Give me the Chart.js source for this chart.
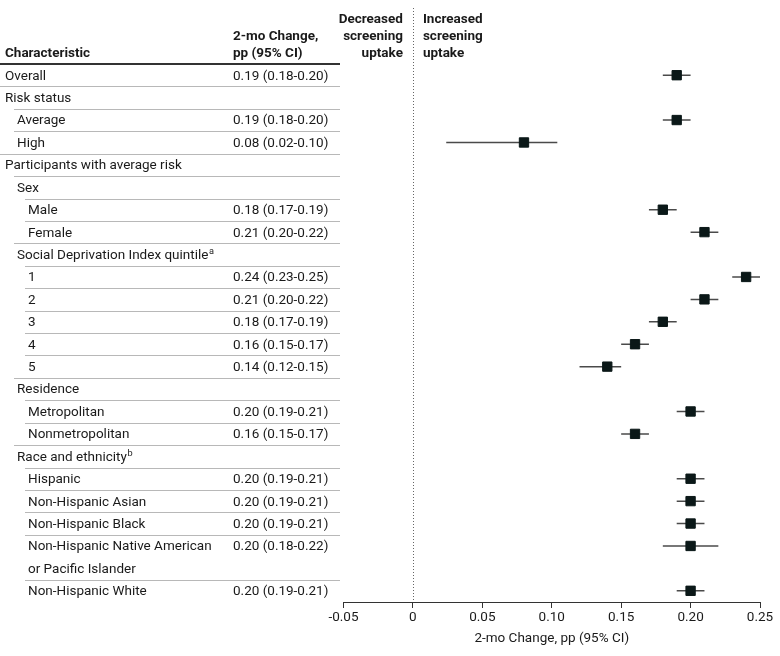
<!DOCTYPE html>
<html>
<head>
<meta charset="utf-8">
<script src="https://cdn.jsdelivr.net/npm/chart.js@4.4.0/dist/chart.umd.min.js"></script>
<style>
  html, body { margin: 0; padding: 0; background: #ffffff; }
  #wrap { width: 780px; height: 656px; position: relative; }
</style>
</head>
<body>
<div id="wrap"><canvas id="c"></canvas></div>
<script>
// ---------- DATA ----------
const rowLabels = [
  "Overall", "Risk status", "Average", "High", "Participants with average risk",
  "Sex", "Male", "Female", "Social Deprivation Index quintile",
  "1", "2", "3", "4", "5",
  "Residence", "Metropolitan", "Nonmetropolitan",
  "Race and ethnicity", "Hispanic", "Non-Hispanic Asian", "Non-Hispanic Black",
  "Non-Hispanic Native American", "or Pacific Islander", "Non-Hispanic White"
];
const rowLevels = [0, 0, 1, 1, 0, 1, 2, 2, 1, 2, 2, 2, 2, 2, 1, 2, 2, 1, 2, 2, 2, 2, 2, 2];
const rowContinues = [false,false,false,false,false,false,false,false,false,false,false,false,false,false,false,false,false,false,false,false,false,false,true,false];
const rowNotes = ["","","","","","","","","a","","","","","","","","","b","","","","","",""];
const estimates = [0.19, null, 0.19, 0.08, null, null, 0.18, 0.21, null, 0.24, 0.21, 0.18, 0.16, 0.14, null, 0.20, 0.16, null, 0.20, 0.20, 0.20, 0.20, null, 0.20];
const ciLower   = [0.18, null, 0.18, 0.024, null, null, 0.17, 0.20, null, 0.23, 0.20, 0.17, 0.15, 0.12, null, 0.19, 0.15, null, 0.19, 0.19, 0.19, 0.18, null, 0.19];
const ciUpper   = [0.20, null, 0.20, 0.104, null, null, 0.19, 0.22, null, 0.25, 0.22, 0.19, 0.17, 0.15, null, 0.21, 0.17, null, 0.21, 0.21, 0.21, 0.22, null, 0.21];
const ciText = [
  "0.19 (0.18-0.20)", "", "0.19 (0.18-0.20)", "0.08 (0.02-0.10)", "",
  "", "0.18 (0.17-0.19)", "0.21 (0.20-0.22)", "",
  "0.24 (0.23-0.25)", "0.21 (0.20-0.22)", "0.18 (0.17-0.19)", "0.16 (0.15-0.17)", "0.14 (0.12-0.15)",
  "", "0.20 (0.19-0.21)", "0.16 (0.15-0.17)",
  "", "0.20 (0.19-0.21)", "0.20 (0.19-0.21)", "0.20 (0.19-0.21)",
  "0.20 (0.18-0.22)", "", "0.20 (0.19-0.21)"
];
const xTickLabels = ["-0.05", "0", "0.05", "0.10", "0.15", "0.20", "0.25"];
const headerLeft = ["Characteristic"];
const headerMid = ["2-mo Change,", "pp (95% CI)"];
const headerDecreased = ["Decreased", "screening", "uptake"];
const headerIncreased = ["Increased", "screening", "uptake"];
const xAxisTitle = "2-mo Change, pp (95% CI)";

// ---------- STYLE ----------
const FONT = "Roboto";
const FS = 13.5;
const TEXT = "#1a1a1a";
const MARK = "#0b1818";
const indents = [5, 17, 28];

// ---------- DATASETS ----------
const rowKeys = rowLabels.map((l, i) => String(i));
const ciDatasets = [];
estimates.forEach((v, i) => {
  if (v === null) return;
  ciDatasets.push({
    type: 'line',
    data: [{x: ciLower[i], y: rowKeys[i]}, {x: ciUpper[i], y: rowKeys[i]}],
    borderColor: '#4a4a4a',
    borderWidth: 1.5,
    pointRadius: 0,
    fill: false,
    order: 2
  });
});
const pointData = [];
estimates.forEach((v, i) => { if (v !== null) pointData.push({x: v, y: rowKeys[i]}); });

const tablePlugin = {
  id: 'table',
  beforeDatasetsDraw(chart) {
    const ctx = chart.ctx;
    const ys = chart.scales.y, xs = chart.scales.x;
    const area = chart.chartArea;
    ctx.save();
    ctx.fillStyle = TEXT;
    ctx.textBaseline = 'middle';
    // headers
    ctx.font = `bold ${FS}px ${FONT}`;
    ctx.textAlign = 'left';
    ctx.fillText(headerLeft[0], 5, 54);
    headerMid.forEach((t, k) => ctx.fillText(t, 233, 37 + k * 17));
    const x0 = xs.getPixelForValue(0);
    ctx.textAlign = 'right';
    headerDecreased.forEach((t, k) => ctx.fillText(t, x0 - 10, 20 + k * 17));
    ctx.textAlign = 'left';
    headerIncreased.forEach((t, k) => ctx.fillText(t, x0 + 10, 20 + k * 17));
    // header rule
    ctx.strokeStyle = '#333';
    ctx.lineWidth = 2;
    ctx.beginPath();
    ctx.moveTo(0, area.top);
    ctx.lineTo(340, area.top);
    ctx.stroke();
    // rows
    rowLabels.forEach((lab, i) => {
      const y = ys.getPixelForValue(i) + 1;
      const x = indents[rowLevels[i]];
      ctx.textAlign = 'left';
      ctx.font = `${FS}px ${FONT}`;
      ctx.fillText(lab, x, y);
      if (rowNotes[i]) {
        const w = ctx.measureText(lab).width;
        ctx.font = `${FS * 0.68}px ${FONT}`;
        ctx.fillText(rowNotes[i], x + w + 0.5, y - 4);
        ctx.font = `${FS}px ${FONT}`;
      }
      if (ciText[i]) ctx.fillText(ciText[i], 233, y);
    });
    // separators
    ctx.strokeStyle = '#b8b8b8';
    ctx.lineWidth = 1;
    for (let i = 0; i < rowLabels.length - 1; i++) {
      if (rowContinues[i + 1]) continue;
      const y = Math.round((ys.getPixelForValue(i) + ys.getPixelForValue(i + 1)) / 2) + 0.5;
      const lv = rowLevels[i + 1];
      const xs0 = lv === 0 ? 0 : indents[lv] - 3;
      ctx.beginPath();
      ctx.moveTo(xs0, y);
      ctx.lineTo(340, y);
      ctx.stroke();
    }
    // dotted zero line
    ctx.strokeStyle = '#666';
    ctx.lineWidth = 1;
    ctx.setLineDash([1, 2]);
    ctx.beginPath();
    ctx.moveTo(Math.round(x0) + 0.5, 8);
    ctx.lineTo(Math.round(x0) + 0.5, area.bottom);
    ctx.stroke();
    ctx.restore();
  }
};

new Chart(document.getElementById('c'), {
  type: 'scatter',
  data: {
    datasets: [
      ...ciDatasets,
      {
        type: 'scatter',
        data: pointData,
        pointStyle: 'rect',
        pointRadius: 6.6,
        pointBackgroundColor: MARK,
        pointBorderColor: MARK,
        pointBorderWidth: 1,
        order: 1
      }
    ]
  },
  options: {
    responsive: true,
    maintainAspectRatio: false,
    animation: false,
    events: [],
    layout: { padding: { top: 64, left: 343.5, right: 20, bottom: 0 } },
    plugins: { legend: { display: false }, tooltip: { enabled: false } },
    scales: {
      y: {
        type: 'category',
        labels: rowKeys,
        offset: true,
        display: false
      },
      x: {
        type: 'linear',
        min: -0.05,
        max: 0.25,
        afterFit: (s) => { s.height = 54; },
        afterBuildTicks: (s) => { s.ticks = xTickLabels.map((t, i) => ({value: -0.05 + i * 0.05})); },
        ticks: {
          callback: (v, i) => xTickLabels[i],
          color: TEXT,
          font: { family: FONT, size: FS },
          padding: 2,
          maxRotation: 0
        },
        grid: { display: true, drawOnChartArea: false, drawTicks: true, tickLength: 6, color: '#333', lineWidth: 1 },
        border: { display: true, color: '#333', width: 1 },
        title: {
          display: true,
          text: xAxisTitle,
          color: TEXT,
          font: { family: FONT, size: FS },
          padding: { top: 2, bottom: 9 }
        }
      }
    }
  },
  plugins: [tablePlugin]
});
</script>
</body>
</html>
